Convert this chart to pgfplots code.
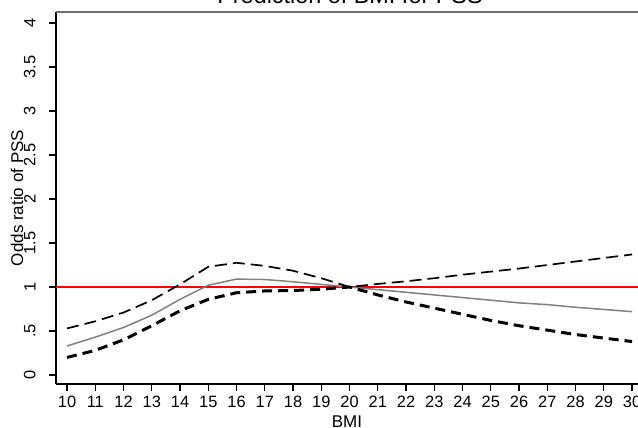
\documentclass[border=0pt]{standalone}
\usepackage{pgfplots}
\pgfplotsset{compat=1.18}
\usepackage{fontspec}
\setmainfont{Liberation Sans}
\begin{document}
\begin{tikzpicture}
\begin{axis}[
  at={(0,0)}, anchor=south west,
  scale only axis, width=291pt, height=186pt,
  xmin=9.61, xmax=30.21, ymin=-0.102, ymax=4.125,
  axis x line*=bottom, axis y line*=left,
  axis line style={black, line width=0.75pt, -},
  xtick={10,...,30},
  ytick={0,0.5,1,1.5,2,2.5,3,3.5,4},
  yticklabels={0,.5,1,1.5,2,2.5,3,3.5,4},
  tick align=outside, major tick length=3.5pt,
  tick style={black, line width=0.6pt},
  /pgf/number format/assume math mode=true,
  ticklabel style={font=\fontsize{8.2}{9.6}\selectfont},
  xticklabel style={inner sep=0pt, anchor=north, yshift=-2.5pt},
  yticklabel style={inner sep=0pt, rotate=90, anchor=south, yshift=6.5pt},
  xlabel={BMI},
  xlabel style={font=\fontsize{8.5}{10}\selectfont, at={(axis description cs:0.5,0)}, anchor=center, yshift=-19pt},
  clip=false,
]
\draw[color={rgb,255:red,110;green,110;blue,110}, line width=0.75pt] (rel axis cs:0,1) -- (rel axis cs:1,1);
\addplot[red, line width=0.8pt] coordinates {(9.61,1) (30.21,1)};
\addplot[color={rgb,255:red,128;green,128;blue,128}, line width=0.75pt] coordinates {
(10,0.33) (11,0.43) (12,0.54) (13,0.68) (14,0.86) (15,1.02) (16,1.09) (17,1.085) (18,1.06) (19,1.03) (20,1.0)
(21,0.97) (22,0.94) (23,0.91) (24,0.88) (25,0.85) (26,0.82) (27,0.80) (28,0.77) (29,0.745) (30,0.72)};
\addplot[black, line width=0.85pt, dash pattern=on 6pt off 3pt] coordinates {
(10,0.53) (11,0.61) (12,0.71) (13,0.85) (14,1.03) (15,1.23) (16,1.275) (17,1.24) (18,1.185) (19,1.10) (20,1.0)
(21,1.035) (22,1.065) (23,1.10) (24,1.14) (25,1.175) (26,1.21) (27,1.25) (28,1.29) (29,1.33) (30,1.37)};
\addplot[black, line width=1.5pt, dash pattern=on 5pt off 3pt] coordinates {
(10,0.20) (11,0.28) (12,0.40) (13,0.56) (14,0.73) (15,0.86) (16,0.935) (17,0.955) (18,0.96) (19,0.975) (20,1.0)
(21,0.91) (22,0.83) (23,0.76) (24,0.69) (25,0.62) (26,0.56) (27,0.51) (28,0.46) (29,0.42) (30,0.38)};
\end{axis}
\node[rotate=90, anchor=center, font=\fontsize{8.5}{10}\selectfont, inner sep=0pt] at (-19.5pt,93pt) {Odds ratio of PSS};
\node[anchor=base, font=\fontsize{11.7}{14}\selectfont, inner sep=0pt] at (147pt,190pt) {Prediction of BMI for PSS};
\pgfresetboundingbox
\path[use as bounding box] (-28pt,-22pt) rectangle (291pt,192pt);
\end{tikzpicture}
\end{document}
